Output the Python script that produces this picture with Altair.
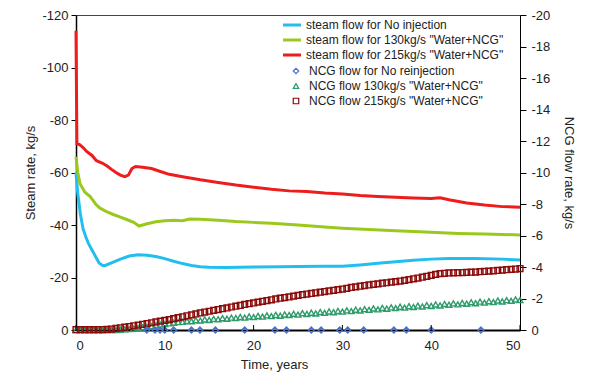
import altair as alt
import pandas as pd
import numpy as np

# ---------------- data ----------------
steam_names = [
    "steam flow for No injection",
    'steam flow for 130kg/s "Water+NCG"',
    'steam flow for 215kg/s "Water+NCG"',
]
steam_colors = ["#22BFEE", "#9BC81E", "#EE1C1C"]

t_blue = [0, 0.2, 0.5, 0.8, 1.1, 1.4, 1.8, 2.2, 2.6, 3.0, 3.3, 4, 5, 6, 7, 8, 9, 10, 11, 12, 13, 14, 15,
          17, 20, 23, 25, 28, 30, 32, 34, 36, 38, 40, 42, 45, 48, 50]
v_blue = [-60, -52, -44, -38.5, -35.5, -33, -30.5, -28, -25.5, -24.6, -24.6, -25.6, -27, -28.2, -28.7,
          -28.5, -28, -27.2, -26.2, -25.3, -24.6, -24.1, -23.9, -23.8, -24.0, -24.1, -24.2, -24.3, -24.3,
          -24.8, -25.4, -26.0, -26.6, -27.0, -27.2, -27.2, -27.0, -26.7]

t_green = [0, 0.2, 0.45, 1, 1.6, 2.2, 2.7, 3.5, 4.2, 5, 5.7, 6.5, 7.1, 8, 9, 10, 11, 12, 12.8, 14, 16,
           18, 20, 22, 25, 28, 30, 33, 36, 40, 43, 46, 50]
v_green = [-66, -60, -55.7, -52.5, -50.8, -48, -46.4, -45, -44, -43, -42.1, -41, -39.6, -40.5, -41.2,
           -41.6, -41.8, -41.6, -42.3, -42.2, -41.8, -41.3, -41, -40.7, -40, -39.2, -38.8, -38.3, -37.8,
           -37.2, -36.8, -36.6, -36.2]

t_red = [0, 0.1, 0.4, 0.8, 1.2, 1.8, 2.3, 3, 3.5, 4, 4.5, 5, 5.5, 5.9, 6.3, 6.7, 7.5, 8.5, 9.5, 10.5, 12,
         14, 16, 18, 20, 22, 24, 26, 28, 30, 32, 34, 36, 38, 40, 41, 42, 44, 46, 48, 50]
v_red = [-114, -71, -70.6, -69.5, -68, -66.5, -64.5, -63.5, -62.5, -61.2, -60, -59, -58.4, -59, -61.5,
         -62.3, -62, -61.5, -60.4, -59.3, -58.4, -57.2, -56.2, -55.2, -54.4, -53.6, -53, -52.8, -52.2,
         -51.8, -51.2, -50.9, -50.6, -50.3, -50.1, -50.4, -49.6, -48.4, -47.6, -47, -46.8]

ncg_names = [
    "NCG flow for No reinjection",
    'NCG flow 130kg/s "Water+NCG"',
    'NCG flow 215kg/s "Water+NCG"',
]
ncg_colors = ["#4A72C8", "#2E9B6B", "#8B0A0A"]
ncg_shapes = ["diamond", "triangle-up", "square"]

t_grid = list(np.arange(0, 50.5, 0.5))

v_ncg130 = [0, 0, 0, 0, 0, 0, 0, 0, 0, 0,
            -0.02, -0.04, -0.06, -0.09, -0.12, -0.16, -0.2, -0.25, -0.29, -0.34,
            -0.38, -0.42, -0.46, -0.5, -0.52, -0.57, -0.56, -0.62, -0.6, -0.67,
            -0.64, -0.71, -0.68, -0.75, -0.72, -0.79, -0.76, -0.83, -0.79, -0.86,
            -0.82, -0.89, -0.85, -0.93, -0.88, -0.96, -0.91, -0.99, -0.95, -1.03,
            -0.98, -1.07, -1.02, -1.1, -1.05, -1.14, -1.09, -1.18, -1.13, -1.21,
            -1.17, -1.25, -1.2, -1.29, -1.24, -1.33, -1.28, -1.37, -1.31, -1.4,
            -1.35, -1.44, -1.39, -1.48, -1.42, -1.51, -1.46, -1.55, -1.49, -1.58,
            -1.53, -1.62, -1.56, -1.65, -1.6, -1.69, -1.63, -1.72, -1.67, -1.76,
            -1.7, -1.8, -1.74, -1.83, -1.77, -1.87, -1.81, -1.9, -1.85, -1.94,
            -1.9]

v_ncg215 = [-0.02, -0.02, -0.02, -0.02, -0.02, -0.03, -0.03, -0.04, -0.06, -0.1,
            -0.14, -0.18, -0.22, -0.27, -0.31, -0.36, -0.41, -0.46, -0.51, -0.56,
            -0.61, -0.66, -0.72, -0.78, -0.84, -0.9, -0.96, -1.02, -1.08, -1.14,
            -1.19, -1.25, -1.3, -1.35, -1.4, -1.46, -1.51, -1.56, -1.62, -1.67,
            -1.72, -1.77, -1.82, -1.87, -1.92, -1.97, -2.02, -2.06, -2.1, -2.15,
            -2.2, -2.24, -2.28, -2.32, -2.36, -2.4, -2.44, -2.48, -2.52, -2.56,
            -2.6, -2.65, -2.7, -2.74, -2.78, -2.82, -2.86, -2.9, -2.93, -2.97,
            -3.0, -3.04, -3.07, -3.11, -3.15, -3.2, -3.25, -3.3, -3.35, -3.41,
            -3.47, -3.53, -3.58, -3.6, -3.62, -3.63, -3.64, -3.65, -3.66, -3.67,
            -3.68, -3.7, -3.72, -3.74, -3.76, -3.78, -3.8, -3.83, -3.85, -3.87,
            -3.9]

t_ncg0 = [7.96, 8.9, 9.46, 10.0, 11.0, 13.0, 13.96, 15.7, 19.0, 22.4, 23.7, 26.5, 27.6, 29.7, 30.6,
          32.4, 35.8, 37.2, 40.0, 45.6]
v_ncg0 = [0] * len(t_ncg0)

x_tick_values = [0, 10, 20, 30, 40, 50]
left_ticks = [0, -20, -40, -60, -80, -100, -120]
right_ticks = [0, -2, -4, -6, -8, -10, -12, -14, -16, -18, -20]

# ---------------- tables ----------------
rows = []
for name, ts, vs in zip(steam_names, [t_blue, t_green, t_red], [v_blue, v_green, v_red]):
    for t, v in zip(ts, vs):
        rows.append({"t": t, "v": v, "series": name})
steam_df = pd.DataFrame(rows)

prow = []
for t, v in zip(t_grid, v_ncg130):
    prow.append({"t": float(t), "v": v, "series": ncg_names[1]})
for t, v in zip(t_grid, v_ncg215):
    prow.append({"t": float(t), "v": v, "series": ncg_names[2]})
for t, v in zip(t_ncg0, v_ncg0):
    prow.append({"t": t, "v": v, "series": ncg_names[0]})
ncg_df = pd.DataFrame(prow)

tick_df = pd.DataFrame({"t": x_tick_values})

FONT = "Liberation Sans"
W, H = 444, 315
HYPHEN = "replace(datum.label, '\u2212', '-')"

xscale = alt.Scale(domain=[0, 50], nice=False)
xaxis = alt.Axis(values=x_tick_values, title="Time, years", ticks=False, labelPadding=9,
                 domainColor="#000", domainWidth=2, grid=False, labelFontSize=13,
                 titleFontSize=13, titleFontWeight="normal", titlePadding=6,
                 titleX=198, labelColor="#222", titleColor="#222")

lines = alt.Chart(steam_df).mark_line(strokeWidth=3).encode(
    x=alt.X("t:Q", scale=xscale, axis=xaxis),
    y=alt.Y("v:Q", scale=alt.Scale(domain=[0, -120], nice=False),
            axis=alt.Axis(orient="left", values=left_ticks, title="Steam rate, kg/s",
                          grid=False, tickSize=5, labelPadding=3, domainColor="#000",
                          domainWidth=1.5, tickColor="#000", labelFontSize=13,
                          titleFontSize=13, titleFontWeight="normal", titlePadding=4,
                          labelColor="#222", titleColor="#222", labelExpr=HYPHEN)),
    color=alt.Color("series:N", scale=alt.Scale(domain=steam_names, range=steam_colors),
                    legend=alt.Legend(orient="none", legendX=210, legendY=4, title=None,
                                      symbolType="M-2,0H2", symbolSize=81, symbolStrokeWidth=3,
                                      labelFontSize=12, labelOffset=8, rowPadding=3,
                                      labelLimit=0, labelColor="#222", labelFont=FONT)),
)

ncg_legend = alt.Legend(orient="none", legendX=214, legendY=50, title=None,
                        labelFontSize=12, labelOffset=7, rowPadding=3,
                        symbolSize=30, symbolStrokeWidth=1.2, labelLimit=0,
                        labelColor="#222", labelFont=FONT)

points = alt.Chart(ncg_df).mark_point(filled=False, strokeWidth=1.4, size=34, opacity=1).encode(
    x=alt.X("t:Q", scale=xscale, axis=xaxis),
    y=alt.Y("v:Q", scale=alt.Scale(domain=[0, -20], nice=False),
            axis=alt.Axis(orient="right", values=right_ticks, title="NCG flow rate, kg/s",
                          grid=False, tickSize=6, labelPadding=5, domainColor="#000",
                          domainWidth=1, tickColor="#000", labelFontSize=13,
                          titleFontSize=13, titleFontWeight="normal", titlePadding=12,
                          labelColor="#222", titleColor="#222", labelExpr=HYPHEN)),
    color=alt.Color("series:N", scale=alt.Scale(domain=ncg_names, range=ncg_colors),
                    legend=ncg_legend),
    shape=alt.Shape("series:N", scale=alt.Scale(domain=ncg_names, range=ncg_shapes),
                    legend=ncg_legend),
)

xticks = alt.Chart(tick_df).mark_rule(color="#000", strokeWidth=1).encode(
    x=alt.X("t:Q", scale=xscale),
    y=alt.value(H),
    y2=alt.value(H - 5),
)

chart = alt.layer(lines, points, xticks).resolve_scale(
    y="independent", color="independent", shape="independent"
).properties(
    width=W, height=H,
    autosize=alt.AutoSizeParams(type="none"),
    padding={"left": 68, "top": 7, "right": 70, "bottom": 46},
).configure(font=FONT).configure_view(stroke="#444", strokeWidth=1)

chart.save("out.html", embed_options={"renderer": "svg", "actions": False})
